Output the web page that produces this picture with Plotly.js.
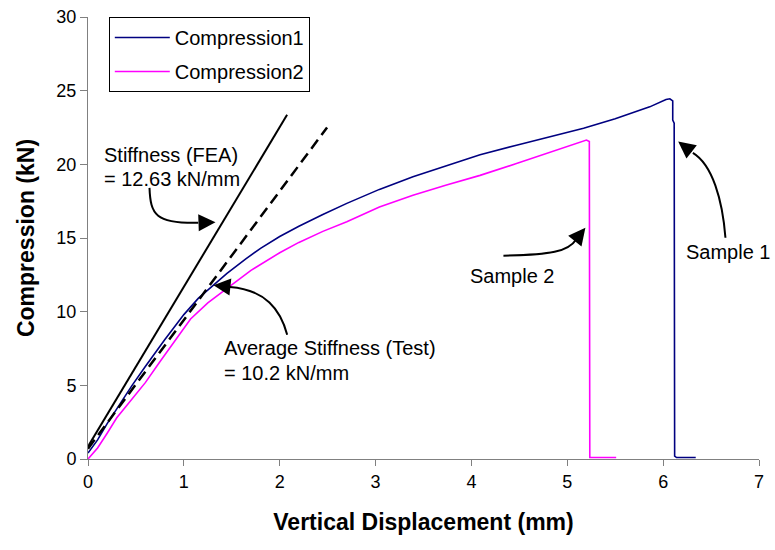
<!DOCTYPE html>
<html>
<head>
<meta charset="utf-8">
<script src="https://cdn.plot.ly/plotly-3.0.1.min.js"></script>
<style>html,body{margin:0;padding:0;background:#fff;}#chart{width:775px;height:550px;}</style>
</head>
<body>
<div id="chart"></div>
<script>
// Sample 1 (Compression1)
const comp1X = [0, 0.1, 0.2, 0.3, 0.46, 0.6, 0.8, 1.0, 1.15, 1.3, 1.45, 1.65, 1.8, 2.0, 2.2, 2.45, 2.70, 3.04, 3.39, 3.74, 4.09, 4.47, 4.8, 5.17, 5.5, 5.86, 6.03, 6.07, 6.10, 6.10, 6.115, 6.12, 6.14, 6.34];
const comp1Y = [0.4, 1.3, 2.4, 3.4, 5.0, 6.3, 8.1, 9.8, 10.9, 11.75, 12.6, 13.6, 14.3, 15.1, 15.8, 16.6, 17.35, 18.3, 19.15, 19.9, 20.65, 21.3, 21.85, 22.45, 23.1, 23.9, 24.4, 24.45, 24.3, 23.0, 22.8, 0.2, 0.1, 0.1];
// Sample 2 (Compression2)
const comp2X = [0, 0.1, 0.2, 0.3, 0.4, 0.5, 0.6, 0.75, 0.9, 1.07, 1.25, 1.41, 1.55, 1.7, 2.0, 2.2, 2.45, 2.70, 3.04, 3.39, 3.74, 4.09, 4.47, 4.82, 5.0, 5.2, 5.23, 5.235, 5.51];
const comp2Y = [0, 0.75, 1.75, 2.8, 3.6, 4.4, 5.2, 6.6, 8.0, 9.5, 10.6, 11.4, 12.1, 12.8, 14.0, 14.7, 15.45, 16.1, 17.1, 17.9, 18.6, 19.25, 20.05, 20.8, 21.2, 21.65, 21.55, 0.1, 0.1];
// Stiffness lines
const feaX = [0, 2.077];
const feaY = [0.85, 23.36];
const testX = [0, 2.494];
const testY = [0.7, 22.5];

const xTicks = [0, 1, 2, 3, 4, 5, 6, 7];
const yTicks = [0, 5, 10, 15, 20, 25, 30];

// annotation texts: [text, x, y]
const labels = [
  ['Stiffness (FEA)', 0.148, 20.64],
  ['= 12.63 kN/mm', 0.148, 19.02],
  ['Average Stiffness (Test)', 1.40, 7.54],
  ['= 10.2 kN/mm', 1.40, 5.84],
  ['Sample 2', 3.962, 12.44],
  ['Sample 1', 6.215, 14.05]
];
// curved arrows: bezier [x0,y0, c1x,c1y, c2x,c2y, x3,y3] and tip [x,y]
const arrowCurves = [
  [0.6416, 18.4, 0.652, 16.58, 0.704, 15.97, 1.15, 16.03],
  [2.078, 8.44, 2.008, 10.14, 1.852, 11.49, 1.48, 11.68],
  [4.334, 13.80, 4.825, 13.86, 5.012, 14.07, 5.095, 14.92],
  [6.650, 15.02, 6.619, 17.59, 6.515, 19.97, 6.31, 20.78]
];
const arrowTips = [
  [1.33, 16.07],
  [1.309, 11.80],
  [5.189, 15.69],
  [6.157, 21.55]
];

const FONT = 'Liberation Sans, Arial, sans-serif';

const traces = [
  {x: comp1X, y: comp1Y, mode: 'lines', name: 'Compression1', legendgroup: 'a',
   line: {color: '#000080', width: 1.6}},
  {x: comp2X, y: comp2Y, mode: 'lines', name: 'Compression2', legendgroup: 'b',
   line: {color: '#FF00FF', width: 1.6}},
  {x: feaX, y: feaY, mode: 'lines', showlegend: false, line: {color: '#000', width: 2}},
  {x: testX, y: testY, mode: 'lines', showlegend: false, line: {color: '#000', width: 2.5, dash: '11px,6px'}}
];

const annotations = labels.map(l => ({
  text: l[0], x: l[1], y: l[2], xref: 'x', yref: 'y', showarrow: false,
  xanchor: 'left', yanchor: 'middle', font: {family: FONT, size: 20, color: '#000'}
}));
arrowCurves.forEach((c, i) => {
  annotations.push({
    x: arrowTips[i][0], y: arrowTips[i][1], ax: c[6], ay: c[7], axref: 'x', ayref: 'y',
    xref: 'x', yref: 'y', text: '', showarrow: true, arrowhead: 2, arrowsize: 1.7,
    arrowwidth: 2, arrowcolor: '#000'
  });
});
const shapes = arrowCurves.map(c => ({
  type: 'path', xref: 'x', yref: 'y',
  path: `M ${c[0]},${c[1]} C ${c[2]},${c[3]} ${c[4]},${c[5]} ${c[6]},${c[7]}`,
  line: {color: '#000', width: 2}
}));

const layout = {
  width: 775, height: 550,
  margin: {l: 88, r: 16, t: 17, b: 91},
  paper_bgcolor: '#fff', plot_bgcolor: '#fff',
  font: {family: FONT, color: '#000'},
  showlegend: true,
  legend: {x: 0.031, y: 1.0, xanchor: 'left', yanchor: 'top',
    bgcolor: '#fff', bordercolor: '#000', borderwidth: 1,
    font: {family: FONT, size: 20, color: '#000'},
    traceorder: 'grouped', tracegroupgap: 5, itemwidth: 55},
  xaxis: {range: [0, 7], tickvals: xTicks, ticktext: xTicks.map(String),
    showgrid: false, zeroline: false, showline: true, linecolor: '#808080', linewidth: 1,
    ticks: 'outside', ticklen: 6, tickcolor: '#808080',
    tickfont: {family: FONT, size: 18, color: '#000'},
    title: {text: 'Vertical Displacement (mm)', font: {family: FONT, size: 23, color: '#000', weight: 'bold'}, standoff: 23}},
  yaxis: {range: [0, 30], tickvals: yTicks, ticktext: yTicks.map(String),
    showgrid: false, zeroline: false, showline: true, linecolor: '#808080', linewidth: 1,
    ticks: 'outside', ticklen: 7, tickcolor: '#808080',
    tickfont: {family: FONT, size: 18, color: '#000'},
    title: {text: 'Compression (kN)', font: {family: FONT, size: 23, color: '#000', weight: 'bold'}, standoff: 15}},
  annotations: annotations,
  shapes: shapes
};

Plotly.newPlot('chart', traces, layout, {displayModeBar: false, staticPlot: true});
</script>
</body>
</html>
